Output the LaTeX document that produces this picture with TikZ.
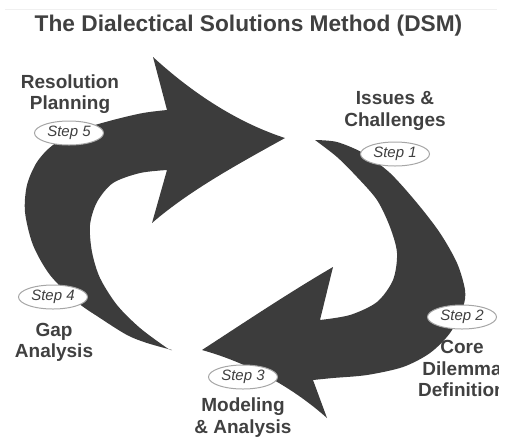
\documentclass[tikz,border=0pt]{standalone}
\usepackage{fontspec}
\setmainfont{Liberation Sans}
\usetikzlibrary{shapes.geometric}
\definecolor{arrowgray}{HTML}{3C3C3C}
\definecolor{textgray}{HTML}{404040}
\tikzset{
	stepmark/.style={ellipse, draw=gray!70, line width=1pt, fill=white, minimum width=69pt, minimum height=24pt, inner sep=0pt, text=textgray, font=\fontsize{15}{18}\selectfont\itshape},
	stagename/.style={align=center, inner sep=0pt, text=textgray, font=\fontsize{19}{21.5}\selectfont\bfseries}
}
\begin{document}
\begin{tikzpicture}[x=1pt,y=-1pt]
	\useasboundingbox (0,0) rectangle (513,437);
	\clip (0,0) rectangle (498,437);
	\draw[gray!12] (5,9) -- (497,9);
	\node[anchor=base, inner sep=0pt, text=textgray, font=\fontsize{22.7}{27}\selectfont\bfseries] (title) at (248.5,31) {The Dialectical Solutions Method (DSM)};

	\fill[arrowgray] plot[smooth] coordinates {(172,350) (147,343) (127,335) (100,318) (77,302) (50,275) (33,245) (25,212) (27,185) (37,162) (53,145) (80,130) (113,120) (143,113) (167,110)}
		-- (153,57) .. controls (200,100) and (245,125) .. (285,138)
		.. controls (240,163) and (190,190) .. (152,223)
		-- plot[smooth] coordinates {(167,170) (140,173) (113,183) (97,202) (90,225) (92,252) (100,278) (117,305) (140,328) (167,348) (172,350)} -- cycle;
	\fill[arrowgray] plot[smooth] coordinates {(315,140) (337,142) (363,153) (390,173) (417,203) (440,233) (457,263) (465,290) (463,307) (450,333) (430,353) (403,367) (367,375) (333,378) (313,380)}
		-- (327,418) .. controls (290,385) and (245,362) .. (202,350)
		.. controls (245,322) and (290,292) .. (333,267)
		-- plot[smooth] coordinates {(320,320) (350,315) (377,302) (393,280) (397,253) (390,227) (377,200) (357,177) (337,157) (315,140)} -- cycle;

	\node[stagename] (issues) at (395,110.7) {Issues \&\\Challenges};
	\node[stagename] (core) at (462,368.8) {Core\\Dilemma\\Definition};
	\node[stagename] (modeling) at (243,417.5) {Modeling\\\& Analysis};
	\node[stagename] (gap) at (54,342.3) {Gap\\Analysis};
	\node[stagename] (resolution) at (70,93.9) {Resolution\\Planning};

	\node[stepmark] (step1) at (395,154) {Step 1};
	\node[stepmark] (step2) at (462,317) {Step 2};
	\node[stepmark] (step3) at (243,377) {Step 3};
	\node[stepmark] (step4) at (53,297) {Step 4};
	\node[stepmark] (step5) at (69,133) {Step 5};
\end{tikzpicture}
\end{document}
